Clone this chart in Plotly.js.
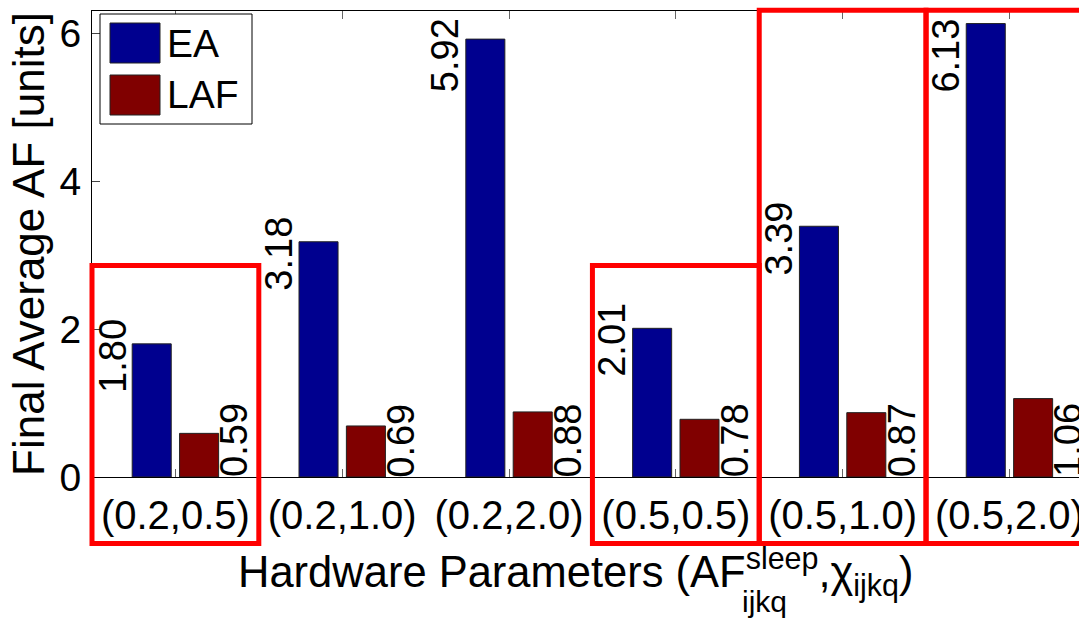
<!DOCTYPE html>
<html>
<head>
<meta charset="utf-8">
<script src="https://cdn.plot.ly/plotly-3.0.1.min.js"></script>
<style>html,body{margin:0;padding:0;background:#fff;}#chart{width:1079px;height:620px;}</style>
</head>
<body>
<div id="chart"></div>
<script>
// ---- data ----
const categories = ['(0.2,0.5)', '(0.2,1.0)', '(0.2,2.0)', '(0.5,0.5)', '(0.5,1.0)', '(0.5,2.0)'];
const eaValues  = [1.80, 3.18, 5.92, 2.01, 3.39, 6.13];
const lafValues = [0.59, 0.69, 0.88, 0.78, 0.87, 1.06];
const seriesNames = ['EA', 'LAF'];
const yTicks = [0, 2, 4, 6];
// highlighted groups (category index) and the top of their frame (data units)
const highlightCats = [0, 3, 4, 5];
const highlightTops = [2.86, 2.86, 6.31, 6.31];

// ---- styling / geometry ----
const W = 1079, H = 620;
const M = {l: 92, r: 0, t: 11, b: 143};
const plotW = W - M.l - M.r, plotH = H - M.t - M.b;
const xRange = [-0.5, 5.417];
const yRange = [0, 6.3];
const colEA = '#00008F', colLAF = '#800000';
const barW = 0.234, offEA = -0.259, offLAF = 0.025;
const FONT = 'Liberation Sans, Arial, Helvetica, sans-serif';
const labelSize = 38;

// pixel -> paper helpers (for decorations only)
const pxX = px => (px - M.l) / plotW;
const pxY = py => (H - M.b - py) / plotH;
const catToPaper = c => (c - xRange[0]) / (xRange[1] - xRange[0]);
const valToPaper = v => (v - yRange[0]) / (yRange[1] - yRange[0]);
const pxPerCat = plotW / (xRange[1] - xRange[0]);

const traces = [
  {type: 'bar', name: seriesNames[0], x: categories, y: eaValues, width: barW, offset: offEA,
   marker: {color: colEA, line: {color: '#222', width: 1}}, showlegend: false, hoverinfo: 'skip'},
  {type: 'bar', name: seriesNames[1], x: categories, y: lafValues, width: barW, offset: offLAF,
   marker: {color: colLAF, line: {color: '#222', width: 1}}, showlegend: false, hoverinfo: 'skip'}
];

const annotations = [];
eaValues.forEach((v, i) => {
  annotations.push({x: i + offEA + 2 / pxPerCat, y: Math.min(v - 0.16, 5.7), xref: 'x', yref: 'y',
    text: v.toFixed(2), textangle: -90, showarrow: false, xanchor: 'right', yanchor: 'middle',
    borderpad: 0, font: {family: FONT, size: labelSize, color: '#000'}});
});
lafValues.forEach((v, i) => {
  annotations.push({x: i + offLAF + barW - 6 / pxPerCat, y: 0.05, yshift: -5, xref: 'x', yref: 'y',
    text: v.toFixed(2), textangle: -90, showarrow: false, xanchor: 'left', yanchor: 'bottom',
    borderpad: 0, font: {family: FONT, size: labelSize, color: '#000'}});
});

// x-axis title (with stacked sub/superscript)
annotations.push({x: pxX(237), y: pxY(604), xref: 'paper', yref: 'paper', xanchor: 'left', yanchor: 'bottom',
  text: 'Hardware Parameters (AF<sup>sleep</sup>,χ<sub>ijkq</sub>)', showarrow: false, borderpad: 0,
  font: {family: FONT, size: 43.5, color: '#000'}});
annotations.push({x: pxX(741), y: pxY(601), xref: 'paper', yref: 'paper', xanchor: 'left', yanchor: 'middle',
  text: 'ijkq', showarrow: false, borderpad: 0, font: {family: FONT, size: 30, color: '#000'}});

// legend (custom)
const shapes = [];
shapes.push({type: 'rect', xref: 'paper', yref: 'paper', x0: pxX(100), x1: pxX(252), y0: pxY(14), y1: pxY(124),
  line: {color: '#000', width: 1}, fillcolor: '#fff', layer: 'above'});
[[colEA, 23, 63], [colLAF, 75, 115]].forEach((s, k) => {
  shapes.push({type: 'rect', xref: 'paper', yref: 'paper', x0: pxX(110), x1: pxX(160), y0: pxY(s[1]), y1: pxY(s[2]),
    line: {color: '#222', width: 1}, fillcolor: s[0], layer: 'above'});
  annotations.push({x: pxX(166), y: pxY((s[1] + s[2]) / 2), xref: 'paper', yref: 'paper', xanchor: 'left', yanchor: 'middle',
    text: seriesNames[k], showarrow: false, borderpad: 0, font: {family: FONT, size: 39, color: '#000'}});
});

// red highlight frames
highlightCats.forEach((c, k) => {
  shapes.push({type: 'rect', xref: 'paper', yref: 'paper',
    x0: catToPaper(c - 0.5), x1: catToPaper(c + 0.5), y0: valToPaper(-0.9), y1: valToPaper(highlightTops[k]),
    line: {color: '#FF0000', width: 5}, fillcolor: 'rgba(0,0,0,0)', layer: 'above'});
});

const layout = {
  width: W, height: H, margin: {l: M.l, r: M.r, t: M.t, b: M.b, pad: 0},
  paper_bgcolor: '#fff', plot_bgcolor: '#fff',
  font: {family: FONT, color: '#000'},
  barmode: 'group',
  xaxis: {type: 'category', range: xRange, showline: true, linecolor: '#000', linewidth: 1, mirror: 'ticks',
    ticks: 'inside', ticklen: 8, tickcolor: '#666', tickwidth: 1, showgrid: false, zeroline: false,
    tickfont: {family: FONT, size: 40, color: '#000'}, ticklabelstandoff: 3},
  yaxis: {range: yRange, tickvals: yTicks, ticktext: yTicks.map(String), showline: true, linecolor: '#000', linewidth: 1,
    mirror: false, ticks: 'inside', ticklen: 8, tickcolor: '#444', showgrid: false, zeroline: false,
    tickfont: {family: FONT, size: 39, color: '#000'}, ticklabelstandoff: 2,
    title: {text: 'Final Average AF [units]', font: {family: FONT, size: 44, color: '#000'}, standoff: 1}},
  annotations: annotations,
  shapes: shapes
};

Plotly.newPlot('chart', traces, layout, {staticPlot: true, displayModeBar: false});
</script>
</body>
</html>
